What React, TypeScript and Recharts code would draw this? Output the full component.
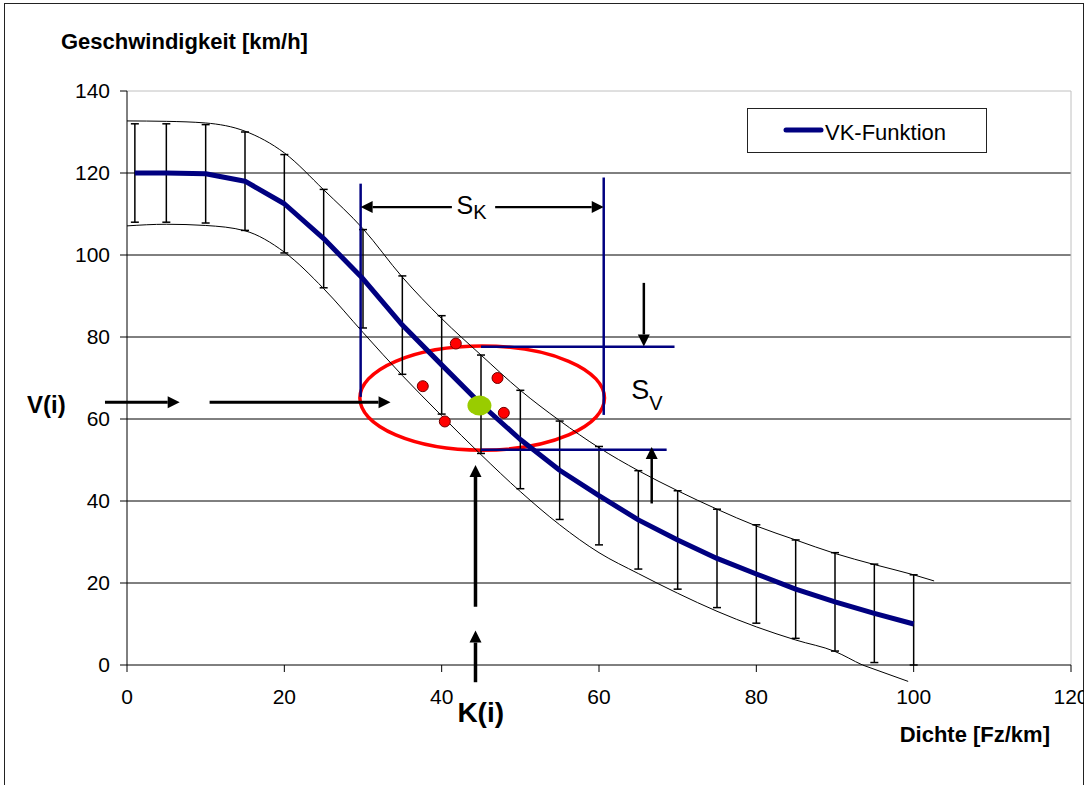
import React from 'react';
import {
  ComposedChart, Line, Scatter, XAxis, YAxis, CartesianGrid, ErrorBar,
  ReferenceLine, ReferenceArea, ReferenceDot, Legend,
} from 'recharts';

const FONT = '"Liberation Sans", Arial, Helvetica, sans-serif';
const NAVY = '#000080';

// VK-Funktion: Dichte [Fz/km] -> Geschwindigkeit [km/h]
const density = [1, 5, 10, 15, 20, 25, 30, 35, 40, 45, 50, 55, 60, 65, 70, 75, 80, 85, 90, 95, 100];
const speed = [120, 120, 119.8, 118, 112.5, 104, 94.2, 82.9, 73.2, 63.6, 55, 47.5, 41.3, 35.4, 30.5, 26, 22.2, 18.5, 15.4, 12.6, 10];
// error bar reach below / above the curve (the last one stops at the axis)
const spreadLow = [12, 12, 12, 12, 12, 12, 12, 12, 12, 12, 12, 12, 12, 12, 12, 12, 12, 12, 12, 12, 10];
const spreadHigh = [12, 12, 12, 12, 12, 12, 12, 12, 12, 12, 12, 12, 12, 12, 12, 12, 12, 12, 12, 12, 12];

// thin envelope curves
const upperK = [0, 5, 10, 15, 20, 25, 30, 35, 40, 45, 50, 55, 60, 65, 70, 75, 80, 85, 90, 95, 100, 102.6];
const upperV = [132.7, 132.6, 132.2, 130.2, 124.9, 115.9, 106.4, 94.6, 84.5, 75.6, 67, 59.6, 53, 47.4, 42.5, 38, 33.9, 30.5, 27.2, 24.5, 22, 20.5];
const lowerK = [0, 5, 10, 15, 20, 25, 30, 35, 40, 45, 50, 55, 60, 65, 70, 75, 80, 85, 90, 93.5, 99.3];
const lowerV = [107.1, 107.5, 107.2, 105.9, 100.7, 91.8, 81.1, 70.6, 60.8, 51.3, 42.3, 34.2, 27.4, 22.3, 17.5, 13.1, 9.3, 6.1, 3.3, 0, -4];
const lowerTail = [{ k: 93.5, v: 0 }, { k: 99.3, v: -4 }];

// measurements around K(i)
const measuredK = [41.8, 37.6, 40.4, 47.1, 47.9];
const measuredV = [78.4, 68.0, 59.4, 70.0, 61.5];
const currentK = 44.8;
const currentV = 63.3;

const xTicks = [0, 20, 40, 60, 80, 100, 120];
const yTicks = [0, 20, 40, 60, 80, 100, 120, 140];
const gridValues = [20, 40, 60, 80, 100, 120];

// annotation geometry in data units
const skRange = [29.7, 60.6];
const skTop = [117.4, 118.9];
const skBottom = [65.4, 61];
const skArrowY = 111.7;
const skArrowInner = [41.3, 46.8];
const svLevels = [77.6, 52.5];
const svStart = 45;
const svEnd = [69.6, 68.6];
const svDownArrow = { k: 65.7, from: 93.2, to: 77.7 };
const svUpArrow = { k: 66.7, from: 39.4, to: 53.2 };
const ellipseBox = { k1: 29.6, k2: 60.7, v1: 52.4, v2: 77.8 };
const viLevel = 64.1;
const viArrows = [[-2.8, 6.7], [10.5, 33.5]];
const kiPos = 44.3;
const kiArrows = [[14.2, 48.8], [-4.2, 8.4]];

const vkData = density.map((k, i) => ({ k, v: speed[i], err: [spreadLow[i], spreadHigh[i]] }));
const upperData = upperK.map((k, i) => ({ k, v: upperV[i] }));
const lowerData = lowerK.map((k, i) => ({ k, v: lowerV[i] }));
const measured = measuredK.map((k, i) => ({ k, v: measuredV[i] }));
const current = [{ k: currentK, v: currentV }];

function arrow(width: number) {
  return (p: any) => {
    const { x1, y1, x2, y2 } = p;
    const dx = x2 - x1;
    const dy = y2 - y1;
    const len = Math.hypot(dx, dy) || 1;
    const ux = dx / len;
    const uy = dy / len;
    const hl = 12;
    const hw = 6;
    const bx = x2 - ux * hl;
    const by = y2 - uy * hl;
    return (
      <g>
        <line x1={x1} y1={y1} x2={bx} y2={by} stroke="#000" strokeWidth={width} />
        <polygon
          points={`${x2},${y2} ${bx - uy * hw},${by + ux * hw} ${bx + uy * hw},${by - ux * hw}`}
          fill="#000"
        />
      </g>
    );
  };
}

const subLabel = (main: string, sub: string, size: number, subSize: number, drop: number) => (p: any) => (
  <text x={p.cx} y={p.cy} fontFamily={FONT} fontSize={size} fill="#000">
    {main}
    <tspan fontSize={subSize} dy={drop}>{sub}</tspan>
  </text>
);

const boldLabel = (value: string, size: number) => (p: any) => (
  <text x={p.cx} y={p.cy} fontFamily={FONT} fontSize={size} fontWeight="bold" fill="#000">
    {value}
  </text>
);

const renderLegend = () => (
  <div style={{ position: 'relative', width: 240, height: 45, boxSizing: 'border-box', border: '1px solid #222', background: '#fff' }}>
    <svg width={240} height={45} style={{ position: 'absolute', left: 0, top: 0 }}>
      <line x1={38} y1={21} x2={73} y2={21} stroke={NAVY} strokeWidth={5} strokeLinecap="round" />
      <text x={77} y={31} fontFamily={FONT} fontSize={22} fill="#000">VK-Funktion</text>
    </svg>
  </div>
);

const yTitle = (p: any) => {
  const vb = p.viewBox;
  return (
    <text x={vb.x - 6} y={vb.y - 42} fontFamily={FONT} fontSize={22} fontWeight="bold" fill="#000">
      Geschwindigkeit [km/h]
    </text>
  );
};

const xTitle = (p: any) => {
  const vb = p.viewBox;
  return (
    <text x={vb.x + vb.width - 21} y={vb.y + 77} textAnchor="end" fontFamily={FONT} fontSize={22} fontWeight="bold" fill="#000">
      Dichte [Fz/km]
    </text>
  );
};

export default function App() {
  return (
    <div style={{ position: 'fixed', left: 0, top: 0, width: 1084, height: 785, background: '#fff', overflow: 'hidden' }}>
      <div style={{ position: 'absolute', left: 4, top: 3, width: 1078, height: 800, border: '1px solid #222' }} />
      <ComposedChart width={1084} height={785} margin={{ top: 91, right: 13, bottom: 90, left: 67 }}>
        <CartesianGrid vertical={false} horizontalValues={gridValues} stroke="#000" />
        <XAxis
          type="number"
          dataKey="k"
          domain={[0, 120]}
          ticks={xTicks}
          interval={0}
          height={30}
          stroke="#000"
          tickSize={7}
          tickMargin={17}
          tick={{ fill: '#000', fontSize: 21, fontFamily: FONT }}
          label={{ content: xTitle }}
        />
        <YAxis
          type="number"
          dataKey="v"
          domain={[0, 140]}
          allowDataOverflow
          ticks={yTicks}
          interval={0}
          width={60}
          stroke="#000"
          tickSize={7}
          tickMargin={10}
          tick={{ fill: '#000', fontSize: 21, fontFamily: FONT }}
          label={{ content: yTitle }}
        />
        <ReferenceLine y={140} stroke="#c0c0c0" />
        <ReferenceLine x={120} stroke="#c0c0c0" />

        <Line data={upperData} dataKey="v" type="monotone" stroke="#000" strokeWidth={1} dot={false} legendType="none" isAnimationActive={false} />
        <Line data={lowerData} dataKey="v" type="monotone" stroke="#000" strokeWidth={1} dot={false} legendType="none" isAnimationActive={false} />
        <ReferenceLine segment={[{ x: lowerTail[0].k, y: lowerTail[0].v }, { x: lowerTail[1].k, y: lowerTail[1].v }]} stroke="#000" strokeWidth={1} ifOverflow="visible" />

        <Line data={vkData} dataKey="v" name="VK-Funktion" type="linear" stroke={NAVY} strokeWidth={5} strokeLinejoin="round" dot={false} isAnimationActive={false}>
          <ErrorBar dataKey="err" direction="y" width={4} stroke="#000" strokeWidth={1.5} />
        </Line>

        {/* S_K */}
        {skRange.map((k, i) => (
          <ReferenceLine key={'skv' + i} segment={[{ x: k, y: skTop[i] }, { x: k, y: skBottom[i] }]} stroke={NAVY} strokeWidth={2.5} />
        ))}
        {skRange.map((k, i) => (
          <ReferenceLine key={'ska' + i} segment={[{ x: skArrowInner[i], y: skArrowY }, { x: k, y: skArrowY }]} shape={arrow(2.2)} />
        ))}
        <ReferenceDot x={41.9} y={110.1} r={0} ifOverflow="visible" shape={subLabel('S', 'K', 25, 20, 5)} />

        {/* S_V */}
        {svLevels.map((v, i) => (
          <ReferenceLine key={'svh' + i} segment={[{ x: svStart, y: v }, { x: svEnd[i], y: v }]} stroke={NAVY} strokeWidth={2.5} />
        ))}
        <ReferenceLine segment={[{ x: svDownArrow.k, y: svDownArrow.from }, { x: svDownArrow.k, y: svDownArrow.to }]} shape={arrow(2.5)} />
        <ReferenceLine segment={[{ x: svUpArrow.k, y: svUpArrow.from }, { x: svUpArrow.k, y: svUpArrow.to }]} shape={arrow(2.5)} />
        <ReferenceDot x={64.1} y={64.9} r={0} ifOverflow="visible" shape={subLabel('S', 'V', 27, 20, 11)} />

        <ReferenceArea
          x1={ellipseBox.k1}
          x2={ellipseBox.k2}
          y1={ellipseBox.v1}
          y2={ellipseBox.v2}
          shape={(p: any) => (
            <ellipse cx={p.x + p.width / 2} cy={p.y + p.height / 2} rx={Math.abs(p.width) / 2} ry={Math.abs(p.height) / 2} fill="none" stroke="#ff0000" strokeWidth={3.5} />
          )}
        />

        <Scatter
          data={measured}
          dataKey="v"
          legendType="none"
          isAnimationActive={false}
          shape={(p: any) => <circle cx={p.cx} cy={p.cy} r={5.5} fill="#ff0000" stroke="#700000" strokeWidth={1} />}
        />
        <Scatter
          data={current}
          dataKey="v"
          legendType="none"
          isAnimationActive={false}
          shape={(p: any) => <ellipse cx={p.cx} cy={p.cy} rx={12} ry={10} fill="#99cc00" />}
        />

        {/* V(i) and K(i) */}
        {viArrows.map((a, i) => (
          <ReferenceLine key={'vi' + i} segment={[{ x: a[0], y: viLevel }, { x: a[1], y: viLevel }]} ifOverflow="visible" shape={arrow(3)} />
        ))}
        {kiArrows.map((a, i) => (
          <ReferenceLine key={'ki' + i} segment={[{ x: kiPos, y: a[0] }, { x: kiPos, y: a[1] }]} ifOverflow="visible" shape={arrow(3.5)} />
        ))}
        <ReferenceDot x={-12.7} y={61.4} r={0} ifOverflow="visible" shape={boldLabel('V(i)', 24)} />
        <ReferenceDot x={42} y={-14} r={0} ifOverflow="visible" shape={boldLabel('K(i)', 28)} />

        <Legend
          layout="horizontal"
          verticalAlign="middle"
          align="center"
          content={renderLegend}
          wrapperStyle={{ left: 747, top: 108, width: 240, height: 45 }}
        />
      </ComposedChart>
    </div>
  );
}
